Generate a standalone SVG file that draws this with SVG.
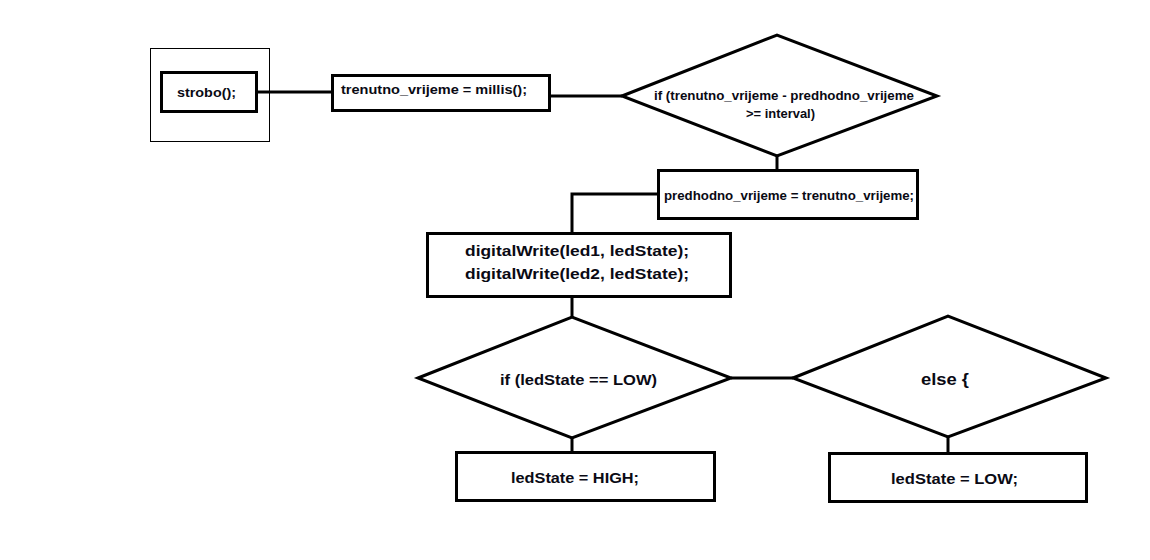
<svg xmlns="http://www.w3.org/2000/svg" width="1150" height="560" viewBox="0 0 1150 560">
<style>
.box{fill:#fff;stroke:#000;stroke-width:3}
.thin{fill:none;stroke:#000;stroke-width:1}
.ln{fill:none;stroke:#000;stroke-width:3}
text{font-family:"Liberation Sans",Arial,sans-serif;font-weight:bold;fill:#0a0a14;lengthAdjust:spacingAndGlyphs}
.s12{font-size:12px}.s13{font-size:13px}.s15{font-size:15px}.s16{font-size:16px}
</style>
<rect width="1150" height="560" fill="#fff"/>
<g id="connectors">
<line class="ln" x1="256" y1="92" x2="332" y2="92"/>
<line class="ln" x1="549" y1="96" x2="622" y2="96"/>
<line class="ln" x1="777" y1="156" x2="777" y2="170"/>
<polyline class="ln" points="658,194 572,194 572,233"/>
<line class="ln" x1="572" y1="297" x2="572" y2="317"/>
<line class="ln" x1="731" y1="378" x2="793" y2="378"/>
<line class="ln" x1="572" y1="438" x2="572" y2="452"/>
<line class="ln" x1="948" y1="437" x2="948" y2="453"/>
</g>
<g id="frame"><rect class="thin" x="150.5" y="48.5" width="119" height="93"/></g>
<g id="strobo">
<rect class="box" x="161.5" y="72.5" width="95" height="39"/>
<text class="s13" x="177" y="97" textLength="59" lengthAdjust="spacingAndGlyphs">strobo();</text>
</g>
<g id="trenutno">
<rect class="box" x="332.5" y="75.5" width="217" height="35"/>
<text class="s13" x="341" y="94" textLength="186" lengthAdjust="spacingAndGlyphs">trenutno_vrijeme = millis();</text>
</g>
<g id="if1">
<polygon class="box" points="622,96 777,35 937,96 777,156"/>
<text class="s12" x="654" y="100" textLength="260" lengthAdjust="spacingAndGlyphs">if (trenutno_vrijeme - predhodno_vrijeme</text>
<text class="s12" x="746" y="118" textLength="69" lengthAdjust="spacingAndGlyphs">&gt;= interval)</text>
</g>
<g id="predhodno">
<rect class="box" x="658.5" y="170.5" width="259" height="48"/>
<text class="s12" x="664" y="200" textLength="250" lengthAdjust="spacingAndGlyphs">predhodno_vrijeme = trenutno_vrijeme;</text>
</g>
<g id="digitalWrite">
<rect class="box" x="427.5" y="233.5" width="303" height="63"/>
<text class="s15" x="465" y="256" textLength="224" lengthAdjust="spacingAndGlyphs">digitalWrite(led1, ledState);</text>
<text class="s15" x="465" y="279" textLength="224" lengthAdjust="spacingAndGlyphs">digitalWrite(led2, ledState);</text>
</g>
<g id="ifLow">
<polygon class="box" points="418,378 572,317 731,378 572,438"/>
<text class="s15" x="500" y="385" textLength="157" lengthAdjust="spacingAndGlyphs">if (ledState == LOW)</text>
</g>
<g id="else">
<polygon class="box" points="793,378 948,316 1106,378 948,437"/>
<text class="s16" x="921" y="385" textLength="48" lengthAdjust="spacingAndGlyphs">else {</text>
</g>
<g id="high">
<rect class="box" x="456.5" y="452.5" width="258" height="48"/>
<text class="s15" x="511" y="483" textLength="128" lengthAdjust="spacingAndGlyphs">ledState = HIGH;</text>
</g>
<g id="low">
<rect class="box" x="829.5" y="453.5" width="257" height="48"/>
<text class="s15" x="891" y="484" textLength="127" lengthAdjust="spacingAndGlyphs">ledState = LOW;</text>
</g>
</svg>
